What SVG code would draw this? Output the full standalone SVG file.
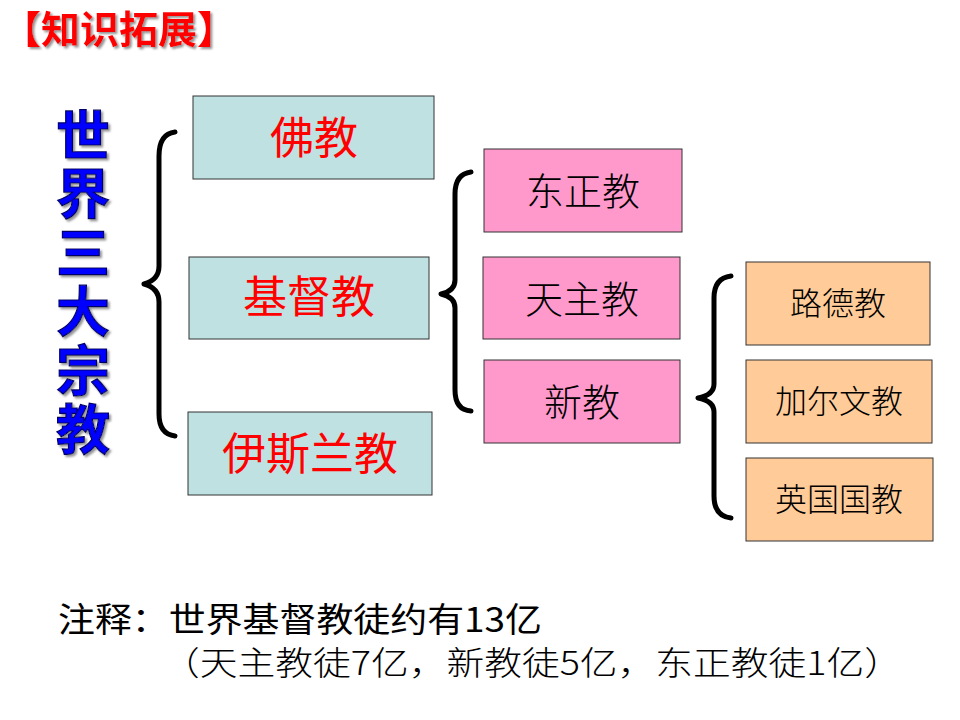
<svg xmlns="http://www.w3.org/2000/svg" width="960" height="720" viewBox="0 0 960 720">
<style>
.cjk{font-family:"Noto Sans CJK SC","Liberation Sans",sans-serif;}
.blue rect{fill:#BFE1E1;stroke:#333;stroke-width:1;}
.pink rect{fill:#FF99CC;stroke:#333;stroke-width:1;}
.orange rect{fill:#FFCC99;stroke:#333;stroke-width:1;}
.blue text{fill:#FF0000;font-size:44px;text-anchor:middle;}
.pink text{fill:#000;font-size:38px;text-anchor:middle;font-weight:300;}
.orange text{fill:#000;font-size:32px;text-anchor:middle;font-weight:300;}
.brace{fill:none;stroke:#000;stroke-width:5;stroke-linecap:round;stroke-linejoin:round;}
</style>
<defs>
<filter id="shadow" x="-10%" y="-20%" width="130%" height="150%">
<feDropShadow dx="2" dy="2" stdDeviation="0.8" flood-color="#888" flood-opacity="0.9"/>
</filter>
</defs>
<rect width="960" height="720" fill="#fff"/>
<g id="title" class="cjk">
<text x="2" y="43" font-size="38" font-weight="bold" fill="#FF0000" textLength="234" lengthAdjust="spacingAndGlyphs" filter="url(#shadow)">【知识拓展】</text>
</g>
<g id="heading" class="cjk">
<text x="83" y="108" font-size="54" font-weight="bold" fill="#0000FF" stroke="#000066" stroke-width="1.2" writing-mode="vertical-rl" letter-spacing="4.8" filter="url(#shadow)">世界三大宗教</text>
</g>
<g id="connectors">
<path class="brace" d="M175,132 Q159,134 159,156 L159,266 Q159,280 144,284 Q159,288 159,302 L159,414 Q159,434 175,436"/>
<path class="brace" d="M471,172 Q455,174 455,194 L455,280 Q455,291 441,294 Q455,297 455,308 L455,390 Q455,410 471,411"/>
<path class="brace" d="M731,276 Q714,278 714,298 L714,384 Q714,395 698,398 Q714,401 714,412 L714,496 Q714,516 731,518"/>
</g>
<g id="fojiao" class="blue cjk"><rect x="193" y="96" width="241" height="83"/><text x="314" y="154">佛教</text></g>
<g id="jidujiao" class="blue cjk"><rect x="189" y="257" width="240" height="82"/><text x="309" y="313">基督教</text></g>
<g id="yisilanjiao" class="blue cjk"><rect x="188" y="412" width="244" height="83"/><text x="310" y="470">伊斯兰教</text></g>
<g id="dongzhengjiao" class="pink cjk"><rect x="484" y="149" width="198" height="83"/><text x="583" y="205">东正教</text></g>
<g id="tianzhujiao" class="pink cjk"><rect x="483" y="257" width="197" height="82"/><text x="582" y="313">天主教</text></g>
<g id="xinjiao" class="pink cjk"><rect x="484" y="360" width="196" height="83"/><text x="582" y="416">新教</text></g>
<g id="ludejiao" class="orange cjk"><rect x="746" y="262" width="184" height="83"/><text x="838" y="315">路德教</text></g>
<g id="jiaerwenjiao" class="orange cjk"><rect x="746" y="360" width="186" height="83"/><text x="839" y="413">加尔文教</text></g>
<g id="yingguoguojiao" class="orange cjk"><rect x="746" y="458" width="187" height="83"/><text x="839" y="511">英国国教</text></g>
<g id="note" class="cjk" fill="#000">
<text x="58" y="632" font-size="34" textLength="484" lengthAdjust="spacingAndGlyphs">注释：世界基督教徒约有13亿</text>
<text x="162" y="675" font-size="33" font-weight="300" textLength="740" lengthAdjust="spacingAndGlyphs">（天主教徒7亿，新教徒5亿，东正教徒1亿）</text>
</g>
</svg>
